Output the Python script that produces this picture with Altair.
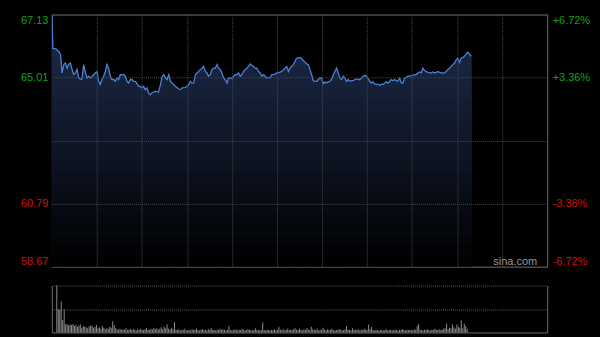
import altair as alt
import pandas as pd

PREV_CLOSE = 62.90
Y_MIN, Y_MAX = 58.67, 67.13
PCT_MAX = 6.72
SESSION_MIN = 330

# intraday minutes since open and price readings
minutes = [0, 0.7, 2.7, 4.6, 5.8, 6.8, 8.0, 9.1, 10.2, 11.3, 12.4, 13.5, 14.6, 15.7, 16.8, 17.9,
           19.1, 20.1, 21.2, 22.4, 23.4, 24.6, 25.7, 26.8, 29.0, 30.1, 31.2, 32.3, 33.4, 34.5,
           35.7, 36.7, 37.8, 39.0, 40.0, 41.2, 42.3, 43.4, 44.5, 45.6, 46.7, 47.8, 48.9, 50.0,
           51.1, 52.3, 53.3, 54.4, 55.6, 56.6, 57.8, 58.9, 60.0, 61.1, 62.2, 63.3, 64.4, 65.5,
           66.6, 68.9, 71.0, 72.4, 73.5, 74.6, 75.7, 76.8, 77.9, 79.0, 80.1, 81.2, 82.3, 83.5,
           84.5, 85.7, 86.8, 87.8, 89.0, 90.1, 91.2, 92.3, 93.4, 94.5, 95.6, 96.7, 97.8, 98.9,
           100.1, 101.1, 102.3, 103.4, 104.4, 105.6, 106.7, 107.8, 108.9, 110.0, 111.1, 112.2,
           113.3, 114.4, 115.5, 116.7, 117.7, 118.9, 120.0, 121.1, 122.2, 123.3, 124.4, 125.5,
           126.6, 127.7, 128.8, 129.9, 131.0, 132.1, 133.3, 134.3, 135.5, 136.6, 137.7, 138.8,
           139.9, 141.0, 142.1, 143.2, 144.3, 145.4, 146.5, 147.6, 148.7, 149.9, 150.9, 152.1,
           153.2, 154.2, 155.4, 156.5, 157.6, 158.7, 159.8, 160.9, 162.0, 163.1, 164.2, 165.3,
           166.5, 167.5, 168.7, 169.8, 170.8, 172.0, 173.1, 174.2, 175.3, 176.4, 177.5, 178.6,
           179.7, 180.8, 181.9, 183.1, 184.1, 185.3, 186.4, 187.5, 188.6, 189.7, 190.8, 191.9,
           193.0, 194.1, 195.2, 196.3, 197.4, 198.5, 199.7, 200.7, 201.9, 203.0, 204.0, 205.2,
           206.3, 207.4, 208.5, 209.6, 210.7, 211.8, 212.9, 214.0, 215.1, 216.3, 217.3, 218.5,
           219.6, 220.6, 221.8, 222.9, 224.0, 225.1, 226.2, 227.3, 228.4, 229.5, 230.6, 231.7,
           232.9, 233.9, 235.1, 236.2, 237.3, 238.4, 239.5, 240.6, 241.7, 242.8, 243.9, 245.0,
           246.1, 247.2, 248.3, 249.5, 250.5, 251.7, 252.8, 253.8, 255.0, 256.1, 257.2, 258.3,
           259.4, 260.5, 261.6, 262.7, 263.8, 264.9, 266.1, 267.1, 268.3, 269.4, 270.4, 271.6,
           272.7, 273.8, 274.9, 276.0, 277.1, 278.2, 279.4]

prices = [67.13, 65.99, 65.98, 65.89, 65.79, 65.17, 65.46, 65.50, 65.33, 65.46, 65.50, 65.29,
          65.12, 65.17, 65.29, 65.00, 64.96, 64.96, 65.45, 65.17, 65.00, 65.06, 65.00, 65.06,
          65.17, 65.22, 64.89, 64.78, 64.95, 65.06, 65.22, 65.45, 65.33, 65.06, 64.95, 64.95,
          64.89, 65.00, 64.95, 65.11, 65.11, 65.11, 65.06, 64.89, 64.83, 64.95, 64.95, 64.89,
          64.89, 64.83, 64.72, 64.72, 64.67, 64.72, 64.61, 64.67, 64.50, 64.44, 64.50, 64.56,
          64.53, 64.78, 65.06, 65.11, 65.00, 64.95, 65.11, 64.89, 64.83, 64.78, 64.72, 64.67,
          64.63, 64.61, 64.67, 64.67, 64.69, 64.72, 64.78, 64.89, 64.83, 64.83, 65.11, 65.17,
          65.22, 65.28, 65.33, 65.39, 65.22, 65.17, 65.06, 65.11, 65.28, 65.33, 65.33, 65.45,
          65.33, 65.28, 65.17, 65.00, 64.95, 64.83, 65.00, 65.00, 64.98, 65.06, 65.11, 65.11,
          65.17, 65.06, 65.11, 65.22, 65.28, 65.33, 65.39, 65.47, 65.42, 65.39, 65.33, 65.33,
          65.22, 65.17, 65.06, 65.11, 65.06, 65.00, 65.02, 65.00, 65.11, 65.11, 65.13, 65.17,
          65.17, 65.20, 65.22, 65.28, 65.33, 65.39, 65.22, 65.33, 65.39, 65.45, 65.56, 65.67,
          65.67, 65.69, 65.65, 65.58, 65.53, 65.47, 65.45, 65.28, 65.11, 64.91, 64.89, 64.89,
          64.95, 65.00, 65.00, 64.80, 64.87, 64.83, 64.87, 64.89, 64.95, 65.11, 65.22, 65.33,
          65.17, 65.00, 64.95, 65.06, 65.00, 64.89, 64.95, 64.89, 64.91, 64.91, 64.95, 64.97,
          64.95, 64.95, 65.00, 65.06, 65.09, 65.06, 64.98, 64.89, 64.83, 64.87, 64.80, 64.78,
          64.80, 64.75, 64.80, 64.78, 64.83, 64.87, 64.83, 64.89, 64.95, 64.91, 64.95, 64.91,
          64.89, 65.00, 64.83, 64.83, 65.00, 65.02, 65.06, 65.06, 65.09, 65.09, 65.11, 65.11,
          65.17, 65.20, 65.17, 65.33, 65.25, 65.22, 65.19, 65.17, 65.17, 65.20, 65.17, 65.19,
          65.22, 65.19, 65.17, 65.17, 65.17, 65.22, 65.28, 65.33, 65.39, 65.45, 65.50, 65.61,
          65.67, 65.53, 65.67, 65.69, 65.73, 65.80, 65.87, 65.80, 65.73]

# per-minute volume, relative to the day's largest bar (=100)
volumes = [100, 50, 48, 66, 26, 49, 17, 18, 15, 17, 16, 18, 14, 16, 12, 15, 17, 10, 14, 12,
           11, 9, 13, 15, 14, 10, 12, 16, 9, 11, 8, 13, 10, 7, 9, 8, 12, 10, 24, 16,
           9, 7, 6, 8, 5, 7, 6, 9, 5, 6, 8, 5, 7, 6, 4, 7, 5, 8, 6, 5,
           7, 9, 6, 5, 8, 6, 10, 7, 9, 6, 8, 11, 7, 12, 9, 17, 8, 6, 10, 7,
           22, 6, 5, 7, 4, 6, 5, 8, 4, 5, 6, 4, 7, 5, 6, 8, 5, 4, 6, 7,
           5, 6, 4, 7, 5, 9, 6, 5, 4, 6, 5, 8, 5, 7, 6, 4, 6, 14, 5, 4,
           6, 5, 7, 4, 6, 5, 8, 6, 4, 5, 7, 5, 6, 4, 5, 9, 5, 6, 4, 5,
           21, 5, 4, 6, 5, 4, 6, 5, 7, 4, 5, 12, 6, 5, 7, 4, 6, 8, 5, 6,
           5, 7, 9, 6, 5, 8, 6, 4, 7, 5, 9, 6, 5, 12, 7, 6, 5, 8, 4, 6,
           5, 10, 6, 4, 7, 5, 6, 8, 5, 4, 6, 5, 7, 6, 4, 5, 7, 13, 5, 6,
           4, 9, 5, 6, 5, 7, 4, 6, 5, 8, 6, 5, 17, 7, 12, 5, 4, 6, 5, 4,
           5, 6, 4, 5, 7, 4, 5, 6, 4, 5, 6, 5, 4, 6, 5, 7, 5, 4, 6, 5,
           5, 6, 4, 7, 5, 13, 18, 6, 5, 4, 6, 5, 7, 5, 4, 6, 5, 8, 6, 5,
           7, 5, 6, 8, 9, 19, 7, 10, 9, 17, 11, 8, 17, 12, 10, 26, 9, 19, 14, 8]

price_ticks = [58.67, 60.79, 62.90, 65.01, 67.13]
pct_ticks = [-6.72, -3.36, 0, 3.36, 6.72]
time_grid = [30, 60, 90, 120, 150, 180, 210, 240, 270, 300]
vol_grid = [50, 100]
watermark = ["sina.com"]

df = pd.DataFrame({"t": minutes, "p": prices})
df["pct"] = (df["p"] / PREV_CLOSE - 1) * 100
vdf = pd.DataFrame({"t": list(range(len(volumes))), "v": volumes})
wdf = pd.DataFrame({"s": watermark})

FONT = "Liberation Sans"
GRID = "#4a4a4a"
FRAME = "#6a6a6a"
GREEN = "#14a014"
RED = "#d01010"
LINE = "#4a80d6"
TOP_RGB = (30, 45, 78)   # fill colour at the top of the plot, fading to black

xscale = alt.Scale(domain=[0, SESSION_MIN], nice=False, zero=False)
xaxis = alt.Axis(values=time_grid, grid=True, gridColor=GRID, gridDash=[1, 1], zindex=1,
                 labels=False, ticks=False, domain=False, title=None)
yscale = alt.Scale(domain=[Y_MIN, Y_MAX], nice=False, zero=False)
pscale = alt.Scale(domain=[-PCT_MAX, PCT_MAX], nice=False, zero=False)

yaxis_left = alt.Axis(
    values=price_ticks, grid=True, gridColor=GRID, gridDash=[1, 1], ticks=False, zindex=1,
    domain=False, title=None, labelFlush=True, labelPadding=4, labelFontSize=11,
    labelFont=FONT,
    labelExpr="abs(datum.value-62.9)<0.001 ? '' : format(datum.value, '.2f')",
    labelColor={"condition": {"test": "datum.value > 62.91", "value": GREEN}, "value": RED},
)
yaxis_right = alt.Axis(
    values=pct_ticks, grid=False, ticks=False, domain=False, title=None, orient="right",
    labelFlush=True, labelPadding=5, labelFontSize=11, labelFont=FONT,
    labelExpr="datum.value == 0 ? '' : (datum.value > 0 ? '+' : '-') + format(abs(datum.value), '.2f') + '%'",
    labelColor={"condition": {"test": "datum.value > 0", "value": GREEN}, "value": RED},
)

# vertical fade under the price line, painted as stacked bands (top band first)
N_BANDS = 24
band_layers = []
for k in range(N_BANDS - 1, -1, -1):
    hi = Y_MIN + (Y_MAX - Y_MIN) * (k + 1) / N_BANDS
    f = (k + 0.5) / N_BANDS
    col = "#%02x%02x%02x" % tuple(int(round(c * f)) for c in TOP_RGB)
    band_layers.append(
        alt.Chart(df)
        .transform_calculate(yb=f"min(datum.p, {hi:.4f})", y0=f"{Y_MIN}")
        .mark_area(color=col, clip=True)
        .encode(
            x=alt.X("t:Q", scale=xscale, axis=xaxis),
            y=alt.Y("yb:Q", scale=yscale,
                    axis=yaxis_left if k == N_BANDS - 1 else None),
            y2="y0:Q",
        )
    )

line = alt.Chart(df).mark_line(color=LINE, strokeWidth=1.3, clip=True).encode(
    x=alt.X("t:Q", scale=xscale, axis=xaxis),
    y=alt.Y("p:Q", scale=yscale, axis=None),
)

right = alt.Chart(df).mark_line(opacity=0).encode(
    x=alt.X("t:Q", scale=xscale, axis=xaxis),
    y=alt.Y("pct:Q", scale=pscale, axis=yaxis_right),
)

wm = alt.Chart(wdf).mark_text(align="right", baseline="middle", fontSize=11,
                              font=FONT, color="#9a9a9a").encode(
    text="s:N", x=alt.value(487), y=alt.value(248)
)

main = alt.layer(*band_layers, line, right, wm).resolve_scale(y="independent").properties(
    width=497, height=253, view=alt.ViewBackground(stroke=FRAME, strokeWidth=1)
)

vxaxis = alt.Axis(grid=False, labels=False, ticks=False, domain=True, domainColor=FRAME,
                  title=None)
vbars = alt.Chart(vdf).mark_bar(size=1, color="#8c8c8c").encode(
    x=alt.X("t:Q", scale=xscale, axis=vxaxis),
    y=alt.Y("v:Q", scale=alt.Scale(domain=[0, 100], nice=False),
            axis=alt.Axis(values=vol_grid, grid=True, gridColor="#5a5a5a", gridDash=[1, 1],
                          labels=False, ticks=False, domain=True, domainColor=FRAME,
                          title=None)),
)
vright = alt.Chart(vdf).mark_bar(size=1, opacity=0).encode(
    x=alt.X("t:Q", scale=xscale, axis=vxaxis),
    y=alt.Y("v:Q", scale=alt.Scale(domain=[0, 100], nice=False),
            axis=alt.Axis(orient="right", grid=False, labels=False, ticks=False, domain=True,
                          domainColor=FRAME, title=None)),
)
vol = alt.layer(vbars, vright).resolve_scale(y="independent").properties(
    width=497, height=47, view=alt.ViewBackground(stroke="transparent")
)

chart = alt.vconcat(main, vol, spacing=19, bounds="flush").properties(
    padding={"left": 19, "top": 13, "right": 9, "bottom": 5},
    background="#000000",
).configure_axis(labelFont=FONT)

chart.save("out.html", embed_options={"renderer": "svg", "actions": False})
